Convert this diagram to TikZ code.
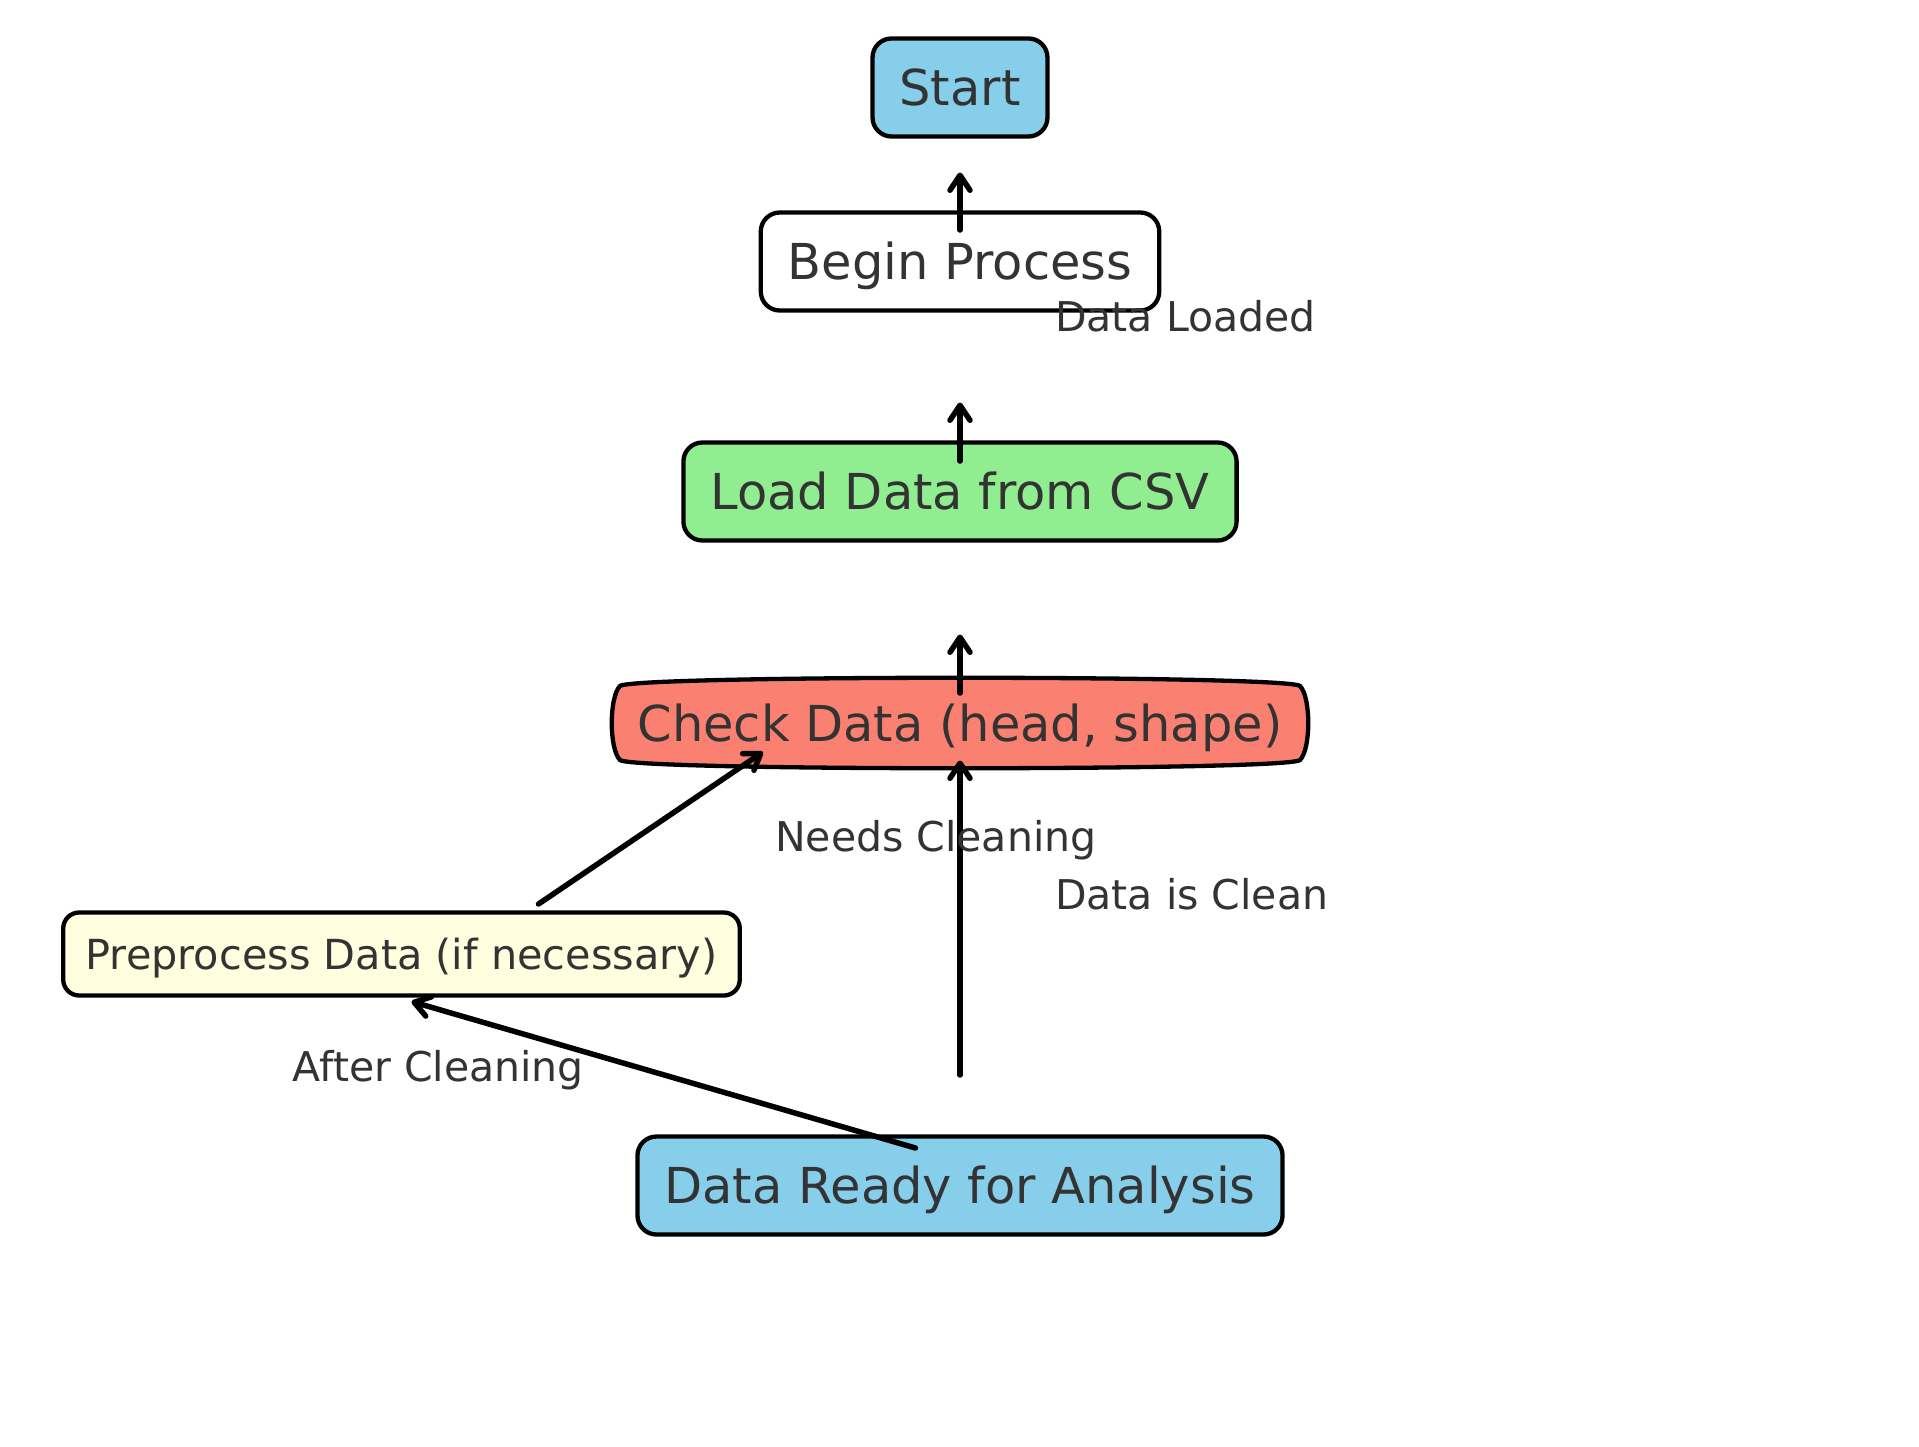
\documentclass[tikz,border=0pt]{standalone}
\usepackage{fontspec}
\setmainfont{DejaVu Sans}
\usetikzlibrary{arrows.meta,calc}
\definecolor{skyb}{HTML}{87CEEB}
\definecolor{lgreen}{HTML}{90EE90}
\definecolor{salm}{HTML}{FA8072}
\definecolor{lyel}{HTML}{FFFFE0}
\definecolor{txt}{HTML}{333333}
\begin{document}
\begin{tikzpicture}[x=1pt,y=-1pt,
  box/.style={draw=black, line width=4.3pt, rounded corners=19pt, text=txt,
    font=\fontsize{49.5}{60}\selectfont, text height=36.1pt, text depth=0pt,
    minimum height=98pt, inner xsep=27pt, inner ysep=0pt},
  smallbox/.style={box, font=\fontsize{41.4}{50}\selectfont, minimum height=83pt,
    text height=30.2pt, inner xsep=22.5pt, rounded corners=16pt},
  lbl/.style={text=txt, font=\fontsize{41}{50}\selectfont, anchor=base west, inner sep=0pt},
  arr/.style={line width=5.5pt, line cap=round, -{Straight Barb[length=15pt,width=20pt,line cap=round,round]}}]
\useasboundingbox[fill=white] (0,0) rectangle (1919,1446);

\node[box, fill=skyb] (start) at (960,87.5) {Start};
\node[box, fill=white] (begin) at (960,261.5) {Begin Process};
\node[box, fill=lgreen] (load) at (960,491.5) {Load Data from CSV};
\path[draw=black, line width=4.3pt, fill=salm]
  (620,686) .. controls (631,675) and (1289,675) .. (1300,686)
  .. controls (1311,697) and (1311,749) .. (1300,760)
  .. controls (1289,771) and (631,771) .. (620,760)
  .. controls (609,749) and (609,697) .. (620,686) -- cycle;
\node[box, draw=none] (check) at (960,723) {Check Data (head, shape)};
\node[smallbox, fill=lyel] (prep) at (401.5,954) {Preprocess Data (if necessary)};
\node[box, fill=skyb] (ready) at (960,1185.5) {Data Ready for Analysis};

\coordinate (a1s) at ($(begin.center)+(0,-31.5)$);
\coordinate (a1e) at ($(start.center)+(0,85)$);
\coordinate (a2s) at ($(load.center)+(0,-30.5)$);
\coordinate (a2e) at ($(begin.center)+(0,141)$);
\coordinate (a3s) at ($(check.center)+(0,-30)$);
\coordinate (a3e) at ($(load.center)+(0,143)$);
\coordinate (a4s) at ($(ready.center)+(0,-110.5)$);
\coordinate (a4e) at ($(check.center)+(0,37.5)$);
\coordinate (a5s) at ($(prep.center)+(137,-50)$);
\coordinate (a5e) at ($(check.center)+(-197,29)$);
\coordinate (a6s) at ($(ready.center)+(-44.5,-37.5)$);
\coordinate (a6e) at ($(prep.center)+(10,47.5)$);

\draw[arr] (a1s) -- (a1e);
\draw[arr] (a2s) -- (a2e);
\draw[arr] (a3s) -- (a3e);
\draw[arr] (a4s) -- (a4e);
\draw[arr] (a5s) -- (a5e);
\draw[arr] (a6s) -- (a6e);

\node[lbl] (l1) at (1055,331) {Data Loaded};
\node[lbl] (l2) at (775,851) {Needs Cleaning};
\node[lbl] (l3) at (1055,909) {Data is Clean};
\node[lbl] (l4) at (292.5,1081) {After Cleaning};
\end{tikzpicture}
\end{document}
